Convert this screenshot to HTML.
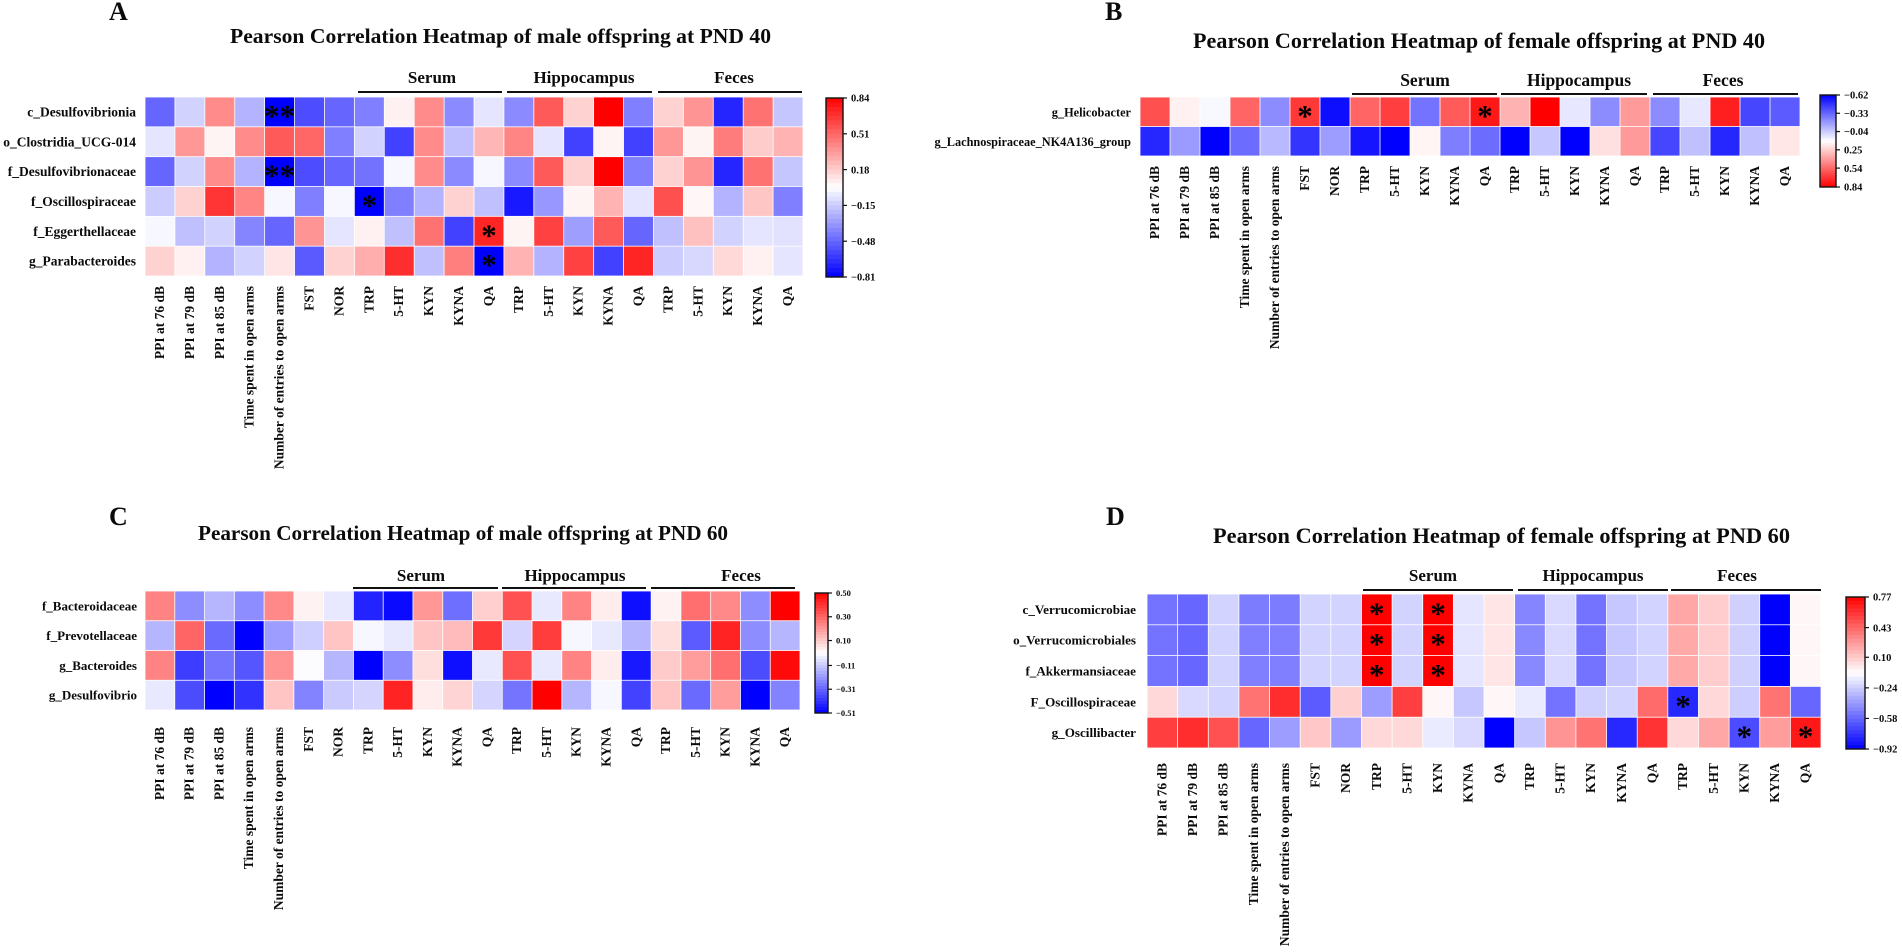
<!DOCTYPE html>
<html lang="en">
<head>
<meta charset="utf-8">
<title>Pearson Correlation Heatmaps</title>
<style>
html,body{margin:0;padding:0;background:#fff;width:1902px;height:952px;overflow:hidden}
svg{display:block}
text{font-family:"Liberation Serif",serif;font-weight:bold;fill:#0b0b0b}
</style>
</head>
<body>
<svg id="root" xmlns="http://www.w3.org/2000/svg" width="1902" height="952" viewBox="0 0 1902 952">
  <rect x="0" y="0" width="1902" height="952" fill="#fff"/>
  <text x="109" y="20" font-size="26">A</text>
  <text x="1105" y="20" font-size="26">B</text>
  <text x="109" y="525" font-size="26">C</text>
  <text x="1106" y="525" font-size="26">D</text>
  <text x="230" y="43" font-size="21.6" textLength="541">Pearson Correlation Heatmap of male offspring at PND 40</text>
  <text x="1193" y="48" font-size="22.1" textLength="572">Pearson Correlation Heatmap of female offspring at PND 40</text>
  <text x="198" y="540" font-size="21.2" textLength="530">Pearson Correlation Heatmap of male offspring at PND 60</text>
  <text x="1213" y="543" font-size="22.3" textLength="577">Pearson Correlation Heatmap of female offspring at PND 60</text>
</svg>
<script>
var columnLabels = ["PPI at 76 dB","PPI at 79 dB","PPI at 85 dB","Time spent in open arms","Number of entries to open arms","FST","NOR","TRP","5-HT","KYN","KYNA","QA","TRP","5-HT","KYN","KYNA","QA","TRP","5-HT","KYN","KYNA","QA"];

var rowsA = ["c_Desulfovibrionia","o_Clostridia_UCG-014","f_Desulfovibrionaceae","f_Oscillospiraceae","f_Eggerthellaceae","g_Parabacteroides"];
var valuesA = [
[-.48,-.13,.39,-.23,-.81,-.56,-.48,-.40,.06,.39,-.36,-.07,-.36,.55,.16,.84,-.40,.16,.36,-.69,.47,-.17],
[-.07,.35,.05,.39,.55,.51,-.40,-.13,-.60,.39,-.19,.25,.41,-.07,-.60,.05,-.60,.35,.05,.44,.18,.26],
[-.48,-.13,.39,-.23,-.81,-.56,-.48,-.44,-.01,.39,-.36,-.01,-.36,.55,.16,.84,-.40,.16,.36,-.69,.47,-.17],
[-.15,.16,.67,.41,-.01,-.40,-.01,-.81,-.40,-.23,.16,-.19,-.73,-.32,.05,.26,-.07,.58,.04,-.23,.20,-.40],
[-.01,-.19,-.13,-.38,-.48,.36,-.07,.06,-.19,.47,-.60,.72,.05,.63,-.30,.55,-.48,-.19,.22,-.13,-.07,-.08],
[.16,.06,-.23,-.13,.10,-.52,.16,.28,.69,-.19,.43,-.81,.26,-.23,.63,-.60,.72,-.15,-.11,.14,.06,-.07]
];
var marksA = [[0,4,"**"],[2,4,"**"],[3,7,"*"],[4,11,"*"],[5,11,"*"]];
var ticksA = [0.84,0.51,0.18,-0.15,-0.48,-0.81];

var rowsB = ["g_Helicobacter","g_Lachnospiraceae_NK4A136_group"];
var valuesB = [
[.61,.15,.09,.55,-.22,.68,-.58,.55,.66,-.29,.58,.77,.33,.84,.04,-.22,.40,-.22,.04,.75,-.42,-.36],
[-.51,-.18,-.62,-.31,-.09,-.47,-.17,-.56,-.62,.14,-.26,-.31,-.62,-.05,-.62,.20,.40,-.42,-.07,-.51,-.07,.18]
];
var marksB = [[0,5,"*"],[0,11,"*"]];
var ticksB = [-0.62,-0.33,-0.04,0.25,0.54,0.84];

var rowsC = ["f_Bacteroidaceae","f_Prevotellaceae","g_Bacteroides","g_Desulfovibrio"];
var valuesC = [
[.24,-.23,-.15,-.23,.23,.02,-.05,-.44,-.49,.20,-.29,.09,.34,-.05,.24,.03,-.48,.02,.28,.23,-.23,.50],
[-.15,.30,-.30,-.51,-.20,-.10,.11,-.02,-.05,.11,.13,.39,-.09,.38,-.02,-.05,-.15,.06,-.33,.43,-.23,-.15],
[.24,-.39,-.28,-.34,.21,-.01,-.15,-.51,-.23,.06,-.48,-.05,.34,-.05,.24,.03,-.46,.10,.19,.28,-.36,.48],
[-.05,-.36,-.51,-.41,.11,-.25,-.11,-.09,.43,.03,.08,-.09,-.28,.50,-.15,-.02,-.38,.11,-.30,.19,-.51,-.25]
];
var marksC = [];
var ticksC = [0.50,0.30,0.10,-0.11,-0.31,-0.51];

var rowsD = ["c_Verrucomicrobiae","o_Verrucomicrobiales","f_Akkermansiaceae","F_Oscillospiraceae","g_Oscillibacter"];
var valuesD = [
[-.54,-.58,-.22,-.51,-.51,-.22,-.22,.77,-.22,.77,-.16,.01,-.48,-.20,-.54,-.26,-.22,.22,.09,-.23,-.92,-.05],
[-.54,-.58,-.22,-.50,-.50,-.22,-.22,.77,-.22,.77,-.16,.01,-.47,-.20,-.54,-.26,-.22,.21,.09,-.23,-.92,-.05],
[-.54,-.58,-.22,-.50,-.50,-.22,-.22,.77,-.22,.77,-.16,.01,-.47,-.20,-.54,-.26,-.22,.21,.09,-.23,-.92,-.05],
[.05,-.20,-.22,.39,.62,-.62,.08,-.40,.56,-.05,-.26,-.05,-.14,-.54,-.23,-.22,.42,-.79,.05,-.24,.39,-.58],
[.56,.62,.50,-.58,-.40,.11,-.41,.05,.05,-.14,-.20,-.92,-.26,.28,.39,-.79,.60,.05,.22,-.67,.25,.69]
];
var marksD = [[0,7,"*"],[0,9,"*"],[1,7,"*"],[1,9,"*"],[2,7,"*"],[2,9,"*"],[3,17,"*"],[4,19,"*"],[4,21,"*"]];
var ticksD = [0.77,0.43,0.10,-0.24,-0.58,-0.92];

var NS = "http://www.w3.org/2000/svg";
var root = document.getElementById("root");

function mk(tag, parent, attrs, txt) {
  var el = document.createElementNS(NS, tag);
  for (var k in attrs) el.setAttribute(k, attrs[k]);
  if (txt !== undefined) el.textContent = txt;
  parent.appendChild(el);
  return el;
}
function colorScale(v, lo, hi) {
  var mid = (lo + hi) / 2, half = (hi - lo) / 2;
  var t = Math.max(-1, Math.min(1, (v - mid) / half));
  if (t < 0) { var c = Math.round(255 * (1 + t)); return "rgb(" + c + "," + c + ",255)"; }
  var d = Math.round(255 * (1 - t));
  return "rgb(255," + d + "," + d + ")";
}
function fmt(v) {
  return (v < 0 ? "\u2212" : "") + Math.abs(v).toFixed(2);
}

function drawPanel(p) {
  var g = mk("g", root, {});
  
  
  var cw = p.w / p.cols.length, ch = p.h / p.rows.length;
  var lo = Math.min.apply(null, p.ticks), hi = Math.max.apply(null, p.ticks);
  function xBand(i) { return p.x + i * cw; }
  function yBand(r) { return p.y + r * ch; }

  p.values.forEach(function (row, r) {
    row.forEach(function (v, c) {
      var cell = mk("rect", g, { x: xBand(c) + 0.4, y: yBand(r) + 0.4, width: cw - 0.8, height: ch - 0.8, fill: colorScale(v, lo, hi) });
      
      
    });
  });

  p.rows.forEach(function (name, r) {
    var t = mk("text", g, { x: p.x - p.rowGap, y: yBand(r) + ch / 2 + 4.5, "font-size": p.rowFont, "text-anchor": "end" }, name);
    
    
  });

  p.cols.forEach(function (name, c) {
    var cx = xBand(c) + cw / 2 + 4, ty = p.y + p.h + p.colGap;
    var t = mk("text", g, { transform: "translate(" + cx + "," + ty + ") rotate(-90)", "font-size": p.colFont, "text-anchor": "end" }, name);
    
    
  });

  p.marks.forEach(function (m) {
    var s = mk("text", g, { x: xBand(m[1]) + cw / 2, y: yBand(m[0]) + ch / 2 + 14, "font-size": 31, "text-anchor": "middle", style: "fill:#000" }, m[2]);
    
    
  });

  p.groups.forEach(function (gr) {
    var line = mk("line", g, { x1: gr.x1, x2: gr.x2, y1: p.lineY, y2: p.lineY, stroke: "#111", "stroke-width": 2 });
    
    
    var t = mk("text", g, { x: gr.cx, y: p.groupY, "font-size": p.groupFont, "text-anchor": "middle" }, gr.name);
    
    
  });

  var cb = p.bar, topV = p.ticks[0], botV = p.ticks[p.ticks.length - 1];
  function yBar(v) { return cb.y + (v - topV) / (botV - topV) * cb.h; }
  var steps = 40;
  for (var i = 0; i < steps; i++) {
    var v0 = topV + (botV - topV) * i / steps;
    var v1 = topV + (botV - topV) * (i + 1) / steps;
    var seg = mk("rect", g, { x: cb.x, y: yBar(v0), width: cb.w, height: yBar(v1) - yBar(v0) + 0.5, fill: colorScale((v0 + v1) / 2, lo, hi) });
    
    
  }
  var frame = mk("rect", g, { x: cb.x, y: cb.y, width: cb.w, height: cb.h, fill: "none", stroke: "#111", "stroke-width": 1.4 });
  
  
  p.ticks.forEach(function (v) {
    var yy = yBar(v);
    var tk = mk("line", g, { x1: cb.x + cb.w, x2: cb.x + cb.w + 4, y1: yy, y2: yy, stroke: "#111", "stroke-width": 1.2 });
    
    
    var lb = mk("text", g, { x: cb.x + cb.w + 8, y: yy + cb.font * 0.35, "font-size": cb.font }, fmt(v));
    
    
  });
}

drawPanel({ id: "a", rows: rowsA, cols: columnLabels, values: valuesA, marks: marksA, ticks: ticksA,
  x: 145, y: 97, w: 658, h: 179, rowGap: 9, colGap: 10, rowFont: 13.5, colFont: 13.5,
  lineY: 92, groupY: 83, groupFont: 17,
  groups: [{ name: "Serum", x1: 358, x2: 502, cx: 432 }, { name: "Hippocampus", x1: 507, x2: 652, cx: 584 }, { name: "Feces", x1: 658, x2: 802, cx: 734 }],
  bar: { x: 826, y: 98, w: 17, h: 179, font: 10.5 } });

drawPanel({ id: "b", rows: rowsB, cols: columnLabels, values: valuesB, marks: marksB, ticks: ticksB,
  x: 1140, y: 97, w: 660, h: 59, rowGap: 9, colGap: 10, rowFont: 12.3, colFont: 13.5,
  lineY: 94, groupY: 86, groupFont: 17.5,
  groups: [{ name: "Serum", x1: 1352, x2: 1497, cx: 1425 }, { name: "Hippocampus", x1: 1501, x2: 1647, cx: 1579 }, { name: "Feces", x1: 1653, x2: 1798, cx: 1723 }],
  bar: { x: 1820, y: 95, w: 16, h: 92, font: 10.5 } });

drawPanel({ id: "c", rows: rowsC, cols: columnLabels, values: valuesC, marks: marksC, ticks: ticksC,
  x: 145, y: 591, w: 655, h: 119, rowGap: 8, colGap: 17, rowFont: 13, colFont: 13.5,
  lineY: 588, groupY: 581, groupFont: 17,
  groups: [{ name: "Serum", x1: 353, x2: 498, cx: 421 }, { name: "Hippocampus", x1: 502, x2: 646, cx: 575 }, { name: "Feces", x1: 651, x2: 795, cx: 741 }],
  bar: { x: 815, y: 593, w: 13, h: 120, font: 8.5 } });

drawPanel({ id: "d", rows: rowsD, cols: columnLabels, values: valuesD, marks: marksD, ticks: ticksD,
  x: 1147, y: 594, w: 674, h: 154, rowGap: 11, colGap: 15, rowFont: 13.1, colFont: 13.5,
  lineY: 590, groupY: 581, groupFont: 17,
  groups: [{ name: "Serum", x1: 1363, x2: 1513, cx: 1433 }, { name: "Hippocampus", x1: 1518, x2: 1668, cx: 1593 }, { name: "Feces", x1: 1671, x2: 1821, cx: 1737 }],
  bar: { x: 1846, y: 597, w: 19, h: 152, font: 10.5 } });
</script>
</body>
</html>
